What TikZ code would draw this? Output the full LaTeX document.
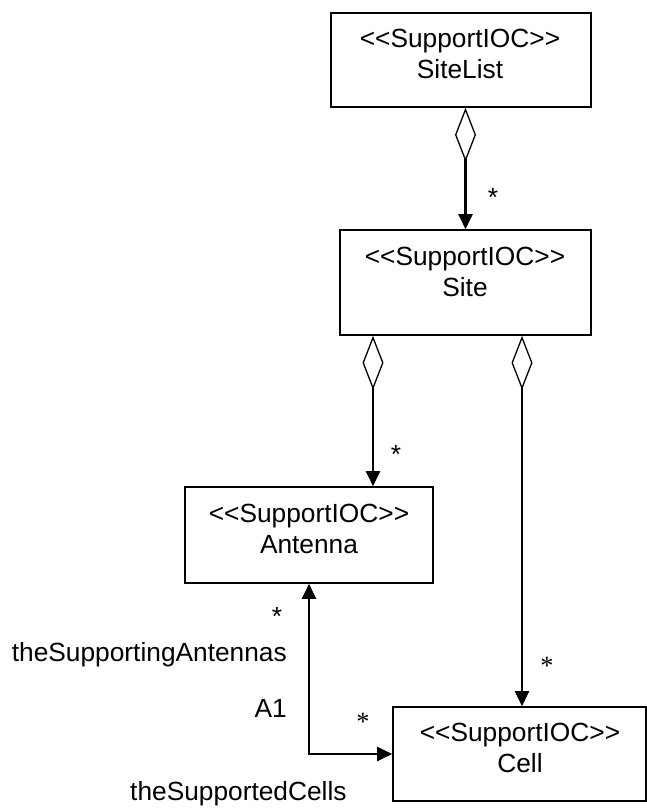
\documentclass[tikz,border=0pt]{standalone}
\usepackage{fontspec}
\setmainfont{Liberation Sans}
\newfontfamily\serifast{Liberation Serif}
\usetikzlibrary{arrows.meta}
\newcommand{\stereo}{<\kern0pt<SupportIOC>\kern0pt>}
\begin{document}
\begin{tikzpicture}[x=1pt,y=-1pt,
  box/.style={draw,line width=1.6pt,inner sep=0pt},
  lbl/.style={font=\fontsize{26.3}{31}\selectfont,align=center,inner sep=0pt},
  txt/.style={font=\fontsize{26.3}{31}\selectfont,inner sep=0pt},
  ast/.style={font=\fontsize{26.3}{31}\selectfont\serifast,inner sep=0pt},
  agg/.style={line width=2.2pt,{Diamond[open,length=54pt,width=21pt,line width=1.3pt]}-{Triangle[length=15pt,width=14pt]}},
  assoc/.style={line width=2.2pt,{Triangle[length=15pt,width=14pt]}-{Triangle[length=15pt,width=14pt]}}]
\useasboundingbox (0,0) rectangle (647,811);
% boxes
\node[box,minimum width=260pt,minimum height=94pt] (sl) at (461,60) {};
\node[box,minimum width=251pt,minimum height=105pt] (s) at (465.5,282.5) {};
\node[box,minimum width=248pt,minimum height=96pt] (a) at (309,535) {};
\node[box,minimum width=253pt,minimum height=94pt] (c) at (519.5,754) {};
% box texts
\node[lbl] (slt) at (460,54) {\stereo\\SiteList};
\node[lbl] (st) at (465,271.5) {\stereo\\Site};
\node[lbl] (at) at (309,528.5) {\stereo\\Antenna};
\node[lbl] (ct) at (520,747.5) {\stereo\\Cell};
% connectors
\draw[agg] (sl.south -| s.north) -- (s.north);
\draw[agg] ([xshift=-92.5pt]s.south) -- ([xshift=-92.5pt]s.south |- a.north);
\draw[agg] ([xshift=2.5pt]c.north |- s.south) -- ([xshift=2.5pt]c.north);
\draw[assoc] (a.south) |- (c.west);
% multiplicities and roles
\node[txt] (m1) at (493,197) {*};
\node[txt] (m2) at (396,454) {*};
\node[ast] (m3) at (547,666) {*};
\node[txt] (m4) at (277,616) {*};
\node[ast] (m5) at (363,722) {*};
\node[txt,anchor=base east] (r1) at (287,661) {theSupportingAntennas};
\node[txt,anchor=base east] (r2) at (287,717) {A1};
\node[txt,anchor=base west] (r3) at (130,800) {theSupportedCells};
\end{tikzpicture}
\end{document}
